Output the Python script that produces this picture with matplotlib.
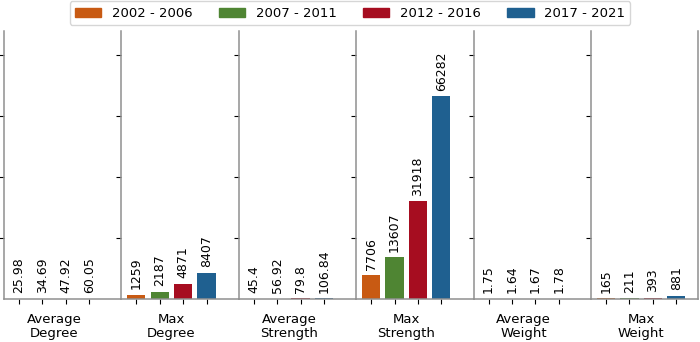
import numpy as np
import matplotlib.pyplot as plt
import matplotlib.transforms as mtransforms

# datos
periodos = ["2002 - 2006", "2007 - 2011", "2012 - 2016", "2017 - 2021"]
metricas = ["Average\nDegree", "Max\nDegree", "Average\nStrength",
            "Max\nStrength", "Average\nWeight", "Max\nWeight"]
average_degree = [25.98, 34.69, 47.92, 60.05]
max_degree = [1259, 2187, 4871, 8407]
average_strength = [45.4, 56.92, 79.8, 106.84]
max_strength = [7706, 13607, 31918, 66282]
average_weight = [1.75, 1.64, 1.67, 1.78]
max_weight = [165, 211, 393, 881]

valores = [average_degree, max_degree, average_strength,
           max_strength, average_weight, max_weight]
colores = ["#c85a13", "#4f8533", "#a60d20", "#1f6090"]

W, H = 700, 342
fig = plt.figure(figsize=(W / 100, H / 100), dpi=100)

gris = "#909090"
x = np.arange(4)
ancho_px = 117.4
abajo = (H - 298.7) / H
alto = (298.7 - 31) / H

for i, (nombre, vals) in enumerate(zip(metricas, valores)):
    izq = 4 + ancho_px * i
    if i == 5:
        w = 698 - izq
        xmax = -0.64 + w / 23.4
    else:
        w = ancho_px
        xmax = 4.38
    ax = fig.add_axes([izq / W, abajo, w / W, alto])
    barras = ax.bar(x, vals, width=0.78, color=colores, linewidth=0)
    for b, v in zip(barras, vals):
        ax.annotate(str(v), (b.get_x() + b.get_width() / 2, b.get_height()),
                    xytext=(0, 4), textcoords="offset points",
                    rotation=90, ha="center", va="bottom", fontsize=9)
    ax.set_xlim(-0.64, xmax)
    ax.set_ylim(0, 87700)
    ax.set_yticks([20000, 40000, 60000, 80000])
    ax.set_yticklabels([])
    ax.set_xticks(x)
    ax.set_xticklabels([])
    ax.spines["top"].set_visible(False)
    ax.spines["right"].set_visible(i == 5)
    for s in ax.spines.values():
        s.set_color(gris)
        s.set_linewidth(1.1)
    ax.tick_params(colors="black", length=3.5, width=0.8)
    trans = mtransforms.blended_transform_factory(ax.transData, ax.transAxes)
    ax.text(1.5, -0.052, nombre, transform=trans, ha="center", va="top",
            fontsize=9.5, linespacing=1.1)

handles = [plt.Rectangle((0, 0), 1, 1, color=c) for c in colores]
fig.legend(handles, periodos, loc="upper center", bbox_to_anchor=(0.5, 1.015),
           ncol=4, fontsize=9.5, frameon=True)

fig.savefig("out.png", dpi=100)
